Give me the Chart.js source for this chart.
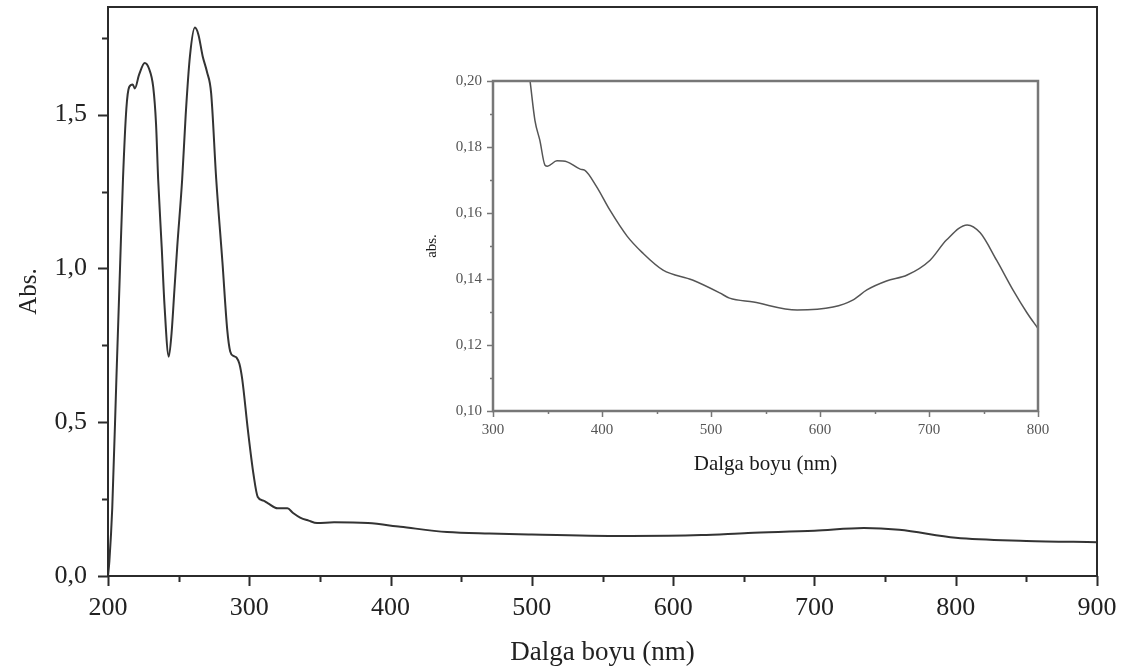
<!DOCTYPE html>
<html>
<head>
<meta charset="utf-8">
<script src="https://cdn.jsdelivr.net/npm/chart.js@4.4.1/dist/chart.umd.min.js"></script>
<style>
    body { margin: 0; background: #fff; }
    #wrap { position: relative; width: 1121px; height: 670px; }
    #inset { position: absolute; left: 405px; top: 70px; }
</style>
</head>
<body>
<div id="wrap">
    <canvas id="mainChart" width="1121" height="670"></canvas>
    <canvas id="inset" width="650" height="410"></canvas>
</div>
<script>
// main spectrum 200-900 nm
const mainWavelength = [200, 201, 203, 206, 208.5, 210.6, 213, 215, 217.5, 219, 222, 226, 229, 232, 234, 235.5,
    238, 240, 243, 245, 247, 249, 252.5, 255, 258, 261.5, 264, 267, 270, 273, 276.6, 281, 284.4, 286.5,
    289, 291, 293, 295, 299, 303, 306, 310, 313, 320, 327, 331, 336, 342, 348, 360, 384, 407, 440, 470,
    500, 570, 620, 653, 700, 735, 760, 800, 850, 900];
const mainAbs = [0, 0.05, 0.22, 0.65, 1.0, 1.29, 1.52, 1.59, 1.598, 1.585, 1.63, 1.668, 1.65, 1.59, 1.47, 1.29,
    1.07, 0.88, 0.713, 0.79, 0.93, 1.07, 1.29, 1.5, 1.69, 1.783, 1.76, 1.69, 1.64, 1.57, 1.29, 1.02, 0.8, 0.73,
    0.715, 0.71, 0.69, 0.64, 0.475, 0.33, 0.257, 0.245, 0.237, 0.22, 0.22, 0.205, 0.19, 0.18, 0.172, 0.175,
    0.172, 0.16, 0.143, 0.138, 0.135, 0.13, 0.133, 0.14, 0.147, 0.156, 0.15, 0.124, 0.114, 0.11];

// inset zoom 300-800 nm
const insetWavelength = [322, 330, 334, 338.5, 343, 347.7, 350, 358.7, 368, 380, 384, 395, 407, 423, 437,
    456, 483, 508, 517, 539, 579, 612, 630, 643, 661, 680, 701, 716, 735, 747, 762, 777, 790, 800];
const insetAbs = [0.23, 0.21, 0.2, 0.188, 0.182, 0.1745, 0.1742, 0.1758, 0.1755, 0.1733, 0.173, 0.168, 0.161,
    0.153, 0.148, 0.1427, 0.1397, 0.1358, 0.1342, 0.133, 0.1306, 0.1315, 0.1336, 0.1367, 0.1394, 0.1412,
    0.1457, 0.1518, 0.1564, 0.154, 0.1457, 0.1367, 0.1297, 0.125];

const mainXTicks = [200, 300, 400, 500, 600, 700, 800, 900];
const mainYTicks = [0, 0.5, 1.0, 1.5];
const insetXTicks = [300, 400, 500, 600, 700, 800];
const insetYTicks = [0.10, 0.12, 0.14, 0.16, 0.18, 0.20];

const toPoints = (xs, ys) => xs.map((x, i) => ({ x: x, y: ys[i] }));

// fixed axis box, no extra room for overhanging labels
function fixSize(prop, size) {
    return s => {
        s[prop] = size;
        s.paddingTop = s.paddingBottom = s.paddingLeft = s.paddingRight = 0;
    };
}

// frame round the plot area plus major / minor ticks pointing outward
function frameTicks(opts) {
    return {
        id: 'frameTicks',
        afterDraw(chart) {
            const { ctx, chartArea: a, scales } = chart;
            ctx.save();
            ctx.strokeStyle = opts.color;
            ctx.lineWidth = opts.width;
            ctx.strokeRect(a.left, a.top, a.right - a.left, a.bottom - a.top);
            ctx.lineWidth = opts.tickWidth;
            ctx.beginPath();
            for (let v = scales.x.min; v <= scales.x.max + 1e-9; v += opts.xMinor) {
                const px = Math.round(scales.x.getPixelForValue(v)) + 0.5;
                const major = Math.abs(v / opts.xMajor - Math.round(v / opts.xMajor)) < 1e-6;
                ctx.moveTo(px, a.bottom);
                ctx.lineTo(px, a.bottom + (major ? opts.major : opts.minor));
            }
            for (let v = scales.y.min; v <= scales.y.max + 1e-9; v += opts.yMinor) {
                const py = Math.round(scales.y.getPixelForValue(v)) + 0.5;
                const major = Math.abs(v / opts.yMajor - Math.round(v / opts.yMajor)) < 1e-6;
                ctx.moveTo(a.left, py);
                ctx.lineTo(a.left - (major ? opts.major : opts.minor), py);
            }
            ctx.stroke();
            ctx.restore();
        }
    };
}

Chart.defaults.font.family = '"Liberation Serif", "Times New Roman", serif';

const mainCtx = document.getElementById('mainChart').getContext('2d');
new Chart(mainCtx, {
    type: 'line',
    data: {
        datasets: [{
            data: toPoints(mainWavelength, mainAbs),
            borderColor: '#333',
            borderWidth: 2,
            pointRadius: 0,
            cubicInterpolationMode: 'monotone',
            fill: false
        }]
    },
    options: {
        responsive: false,
        animation: false,
        layout: { padding: { left: 0, top: 7, right: 24, bottom: 0 } },
        plugins: { legend: { display: false }, tooltip: { enabled: false } },
        scales: {
            x: {
                type: 'linear',
                min: 200,
                max: 900,
                afterFit: fixSize('height', 94),
                grid: { display: false, drawTicks: false },
                border: { display: false },
                afterBuildTicks: s => { s.ticks = mainXTicks.map(v => ({ value: v })); },
                ticks: { color: '#222', padding: 17, font: { size: 26 }, autoSkip: false, maxRotation: 0 },
                title: { display: true, text: 'Dalga boyu (nm)', color: '#222', font: { size: 27 }, padding: { top: 0, bottom: 1 } }
            },
            y: {
                min: 0,
                max: 1.85,
                afterFit: fixSize('width', 108),
                grid: { display: false, drawTicks: false },
                border: { display: false },
                afterBuildTicks: s => { s.ticks = mainYTicks.map(v => ({ value: v })); },
                ticks: {
                    color: '#222', padding: 21, font: { size: 26 },
                    callback: v => v.toFixed(1).replace('.', ',')
                },
                title: { display: true, text: 'Abs.', color: '#222', font: { size: 25 }, padding: { top: 14, bottom: 0 } }
            }
        }
    },
    plugins: [frameTicks({ color: '#2b2b2b', width: 2, tickWidth: 2, major: 10, minor: 6,
        xMajor: 100, xMinor: 50, yMajor: 0.5, yMinor: 0.25 })]
});

const insetCtx = document.getElementById('inset').getContext('2d');
new Chart(insetCtx, {
    type: 'line',
    data: {
        datasets: [{
            data: toPoints(insetWavelength, insetAbs),
            borderColor: '#555',
            borderWidth: 1.5,
            pointRadius: 0,
            cubicInterpolationMode: 'monotone',
            fill: false
        }]
    },
    options: {
        responsive: false,
        animation: false,
        layout: { padding: { left: 0, top: 11, right: 17, bottom: 0 } },
        plugins: { legend: { display: false }, tooltip: { enabled: false } },
        scales: {
            x: {
                type: 'linear',
                min: 300,
                max: 800,
                afterFit: fixSize('height', 69),
                grid: { display: false, drawTicks: false },
                border: { display: false },
                afterBuildTicks: s => { s.ticks = insetXTicks.map(v => ({ value: v })); },
                ticks: { color: '#555', padding: 10, font: { size: 15 }, autoSkip: false, maxRotation: 0 },
                title: { display: true, text: 'Dalga boyu (nm)', color: '#1a1a1a', font: { size: 21 }, padding: { top: 0, bottom: 3 } }
            },
            y: {
                min: 0.10,
                max: 0.20,
                afterFit: fixSize('width', 88),
                grid: { display: false, drawTicks: false },
                border: { display: false },
                afterBuildTicks: s => { s.ticks = insetYTicks.map(v => ({ value: v })); },
                ticks: {
                    color: '#555', padding: 11, font: { size: 15 },
                    callback: v => v.toFixed(2).replace('.', ',')
                },
                title: { display: true, text: 'abs.', color: '#1a1a1a', font: { size: 15 }, padding: { top: 18, bottom: 0 } }
            }
        }
    },
    plugins: [frameTicks({ color: '#777', width: 2.5, tickWidth: 1.5, major: 6, minor: 3,
        xMajor: 100, xMinor: 50, yMajor: 0.02, yMinor: 0.01 })]
});
</script>
</body>
</html>
